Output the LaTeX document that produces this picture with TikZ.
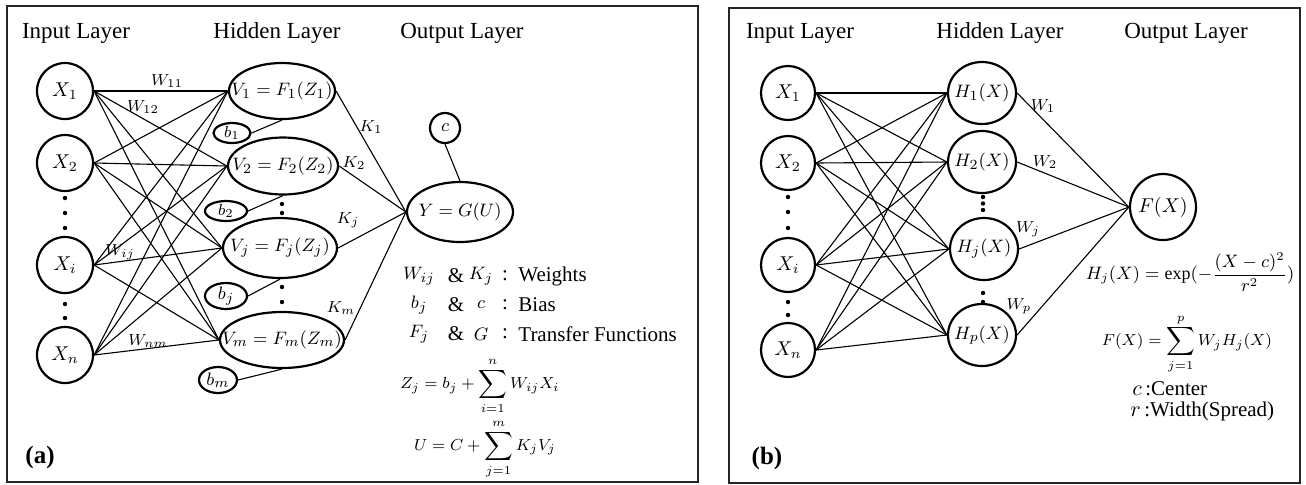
\documentclass[tikz,border=0pt]{standalone}
\usepackage{fontspec}
\setmainfont{Liberation Serif}
\usetikzlibrary{shapes.geometric}
\begin{document}
\begin{tikzpicture}[x=0.5pt,y=-0.5pt,
  frame/.style={draw=black!85,line width=1.2pt},
  inp/.style={draw,circle,line width=1.1pt,inner sep=0pt,minimum size=28pt,font=\fontsize{10}{11}\selectfont},
  hid/.style={draw,ellipse,line width=1.1pt,inner sep=0pt},
  conn/.style={line width=0.55pt},
  lbl/.style={font=\fontsize{8.5}{9}\selectfont,inner sep=0pt},
  hdr/.style={font=\fontsize{11.5}{13}\selectfont,inner sep=0pt},
  leg/.style={font=\fontsize{10.5}{12}\selectfont,inner sep=0pt},
  sym/.style={font=\fontsize{9.5}{10}\selectfont,inner sep=0pt},
  frm/.style={font=\fontsize{8.5}{10}\selectfont,inner sep=0pt},
  nodetext/.style={font=\fontsize{9.5}{11}\selectfont,inner sep=0pt},
  pdot/.style={fill=black}]
\useasboundingbox (0,0) rectangle (1306,484);

% ---------------- Panel (a) ----------------
\draw[frame] (7,6) rectangle (698,482);
\node[hdr] (ha1) at (76,33) {Input Layer};
\node[hdr] (ha2) at (277,33) {Hidden Layer};
\node[hdr] (ha3) at (462,33) {Output Layer};

\node[inp] (x1) at (65,91) {$X_1$};
\node[inp] (x2) at (65,163) {$X_2$};
\node[inp] (xi) at (65,265) {$X_i$};
\node[inp] (xn) at (65,355) {$X_n$};
\foreach \yy in {198,213,228,304,318} \fill[pdot] (65,\yy) circle (1.1pt);

\node[hid,minimum width=53pt,minimum height=28pt] (v1) at (282,91) {};
\node[nodetext] at (v1) {$V_1=F_1(Z_1)$};
\node[hid,minimum width=55pt,minimum height=28.5pt] (v2) at (283,166) {};
\node[nodetext] at (v2) {$V_2=F_2(Z_2)$};
\node[hid,minimum width=57pt,minimum height=30pt] (vj) at (280,248) {};
\node[nodetext] at (vj) {$V_j=F_j(Z_j)$};
\node[hid,minimum width=62pt,minimum height=28pt] (vm) at (282,340) {};
\node[nodetext] at (vm) {$V_m=F_m(Z_m)$};
\foreach \yy in {204,213,287,302} \fill[pdot] (282,\yy) circle (1.1pt);

\node[hid,minimum width=18.5pt,minimum height=10pt] (b1) at (232,133) {};
\node[lbl] at (b1) {$b_1$};
\node[hid,minimum width=21pt,minimum height=10pt] (b2) at (226,211) {};
\node[lbl] at (b2) {$b_2$};
\node[hid,minimum width=21pt,minimum height=13pt] (bj) at (226,296) {};
\node[lbl,font=\fontsize{9.5}{10}\selectfont] at (bj) {$b_j$};
\node[hid,minimum width=19pt,minimum height=13pt] (bm) at (218,380) {};
\node[lbl,font=\fontsize{9.5}{10}\selectfont] at (bm) {$b_m$};

\node[hid,minimum width=53pt,minimum height=30pt] (yy) at (460,212) {};
\node[nodetext] at (yy) {$Y=G(U)$};
\node[draw,circle,line width=1.1pt,inner sep=0pt,minimum size=15pt] (cc) at (445,128) {};
\node[lbl,font=\fontsize{9.5}{10}\selectfont] at (cc) {$c$};

\foreach \a in {x1,x2,xi,xn}
  \foreach \b in {v1,v2,vj,vm}
    \draw[conn] (\a.east) -- (\b.west);
\foreach \b in {v1,v2,vj,vm}
  \draw[conn] (\b.east) -- (yy.west);
\draw[conn] (b1.east) -- (v1.south);
\draw[conn] (b2.east) -- (v2.south);
\draw[conn] (bj.east) -- (vj.south);
\draw[conn] (bm.east) -- (vm.south);
\draw[conn] (cc.south) -- (yy.north);

\node[lbl] (w11) at (167,81) {$W_{11}$};
\node[lbl] (w12) at (143,107) {$W_{12}$};
\node[lbl] (wij) at (120,252) {$W_{ij}$};
\node[lbl] (wnm) at (148,341) {$W_{nm}$};
\node[lbl] (k1) at (371,127) {$K_1$};
\node[lbl] (k2) at (354,163) {$K_2$};
\node[lbl] (kj) at (348,220) {$K_j$};
\node[lbl] (km) at (341,308) {$K_m$};

% legend (a)
\node[sym] (l1a) at (419,276) {$W_{ij}$};
\node[leg] (l1b) at (456,276) {\&};
\node[sym] (l1c) at (481,276) {$K_j$};
\node[leg] (l1d) at (505,276) {:};
\node[leg,anchor=west] (l1e) at (518,276) {Weights};
\node[sym] (l2a) at (419,305) {$b_j$};
\node[leg] (l2b) at (456,305) {\&};
\node[sym] (l2c) at (481,305) {$c$};
\node[leg] (l2d) at (505,305) {:};
\node[leg,anchor=west] (l2e) at (518,305) {Bias};
\node[sym] (l3a) at (419,334) {$F_j$};
\node[leg] (l3b) at (456,334) {\&};
\node[sym] (l3c) at (481,334) {$G$};
\node[leg] (l3d) at (505,334) {:};
\node[leg,anchor=west] (l3e) at (518,334) {Transfer Functions};
\node[frm] (zf) at (480,386) {$\displaystyle Z_j=b_j+\sum_{i=1}^{n}W_{ij}X_i$};
\node[frm] (uf) at (485,449) {$\displaystyle U=C+\sum_{j=1}^{m}K_jV_j$};
\node[font=\fontsize{12.5}{14}\selectfont\bfseries,inner sep=0pt] (la) at (40,457) {(a)};

% ---------------- Panel (b) ----------------
\draw[frame] (729,8) rectangle (1300,483);
\node[hdr] (hb1) at (800,33) {Input Layer};
\node[hdr] (hb2) at (1000,33) {Hidden Layer};
\node[hdr] (hb3) at (1186,33) {Output Layer};

\node[inp,minimum size=27pt] (bx1) at (788,93) {$X_1$};
\node[inp,minimum size=27pt] (bx2) at (788,163) {$X_2$};
\node[inp,minimum size=27pt] (bxi) at (788,265) {$X_i$};
\node[inp,minimum size=27pt] (bxn) at (788,350) {$X_n$};
\foreach \yy in {197,212,228,302,315} \fill[pdot] (788,\yy) circle (1.1pt);

\node[hid,minimum width=34pt,minimum height=31pt] (h1) at (982,93) {};
\node[nodetext] at (h1) {$H_1(X)$};
\node[hid,minimum width=34pt,minimum height=31pt] (h2) at (982,162) {};
\node[nodetext] at (h2) {$H_2(X)$};
\node[hid,minimum width=34pt,minimum height=31pt] (hj) at (984,249) {};
\node[nodetext] at (hj) {$H_j(X)$};
\node[hid,minimum width=34pt,minimum height=31pt] (hp) at (982,335) {};
\node[nodetext] at (hp) {$H_p(X)$};
\foreach \yy in {197,203.5,210,293,302} \fill[pdot] (983,\yy) circle (1.1pt);

\node[draw,circle,line width=1.1pt,inner sep=0pt,minimum size=33pt,font=\fontsize{10}{11}\selectfont] (fx) at (1163,207) {$F(X)$};

\foreach \a in {bx1,bx2,bxi,bxn}
  \foreach \b in {h1,h2,hj,hp}
    \draw[conn] (\a.east) -- (\b.west);
\foreach \b in {h1,h2,hj,hp}
  \draw[conn] (\b.east) -- (fx.west);

\node[lbl] (bw1) at (1043,106) {$W_1$};
\node[lbl] (bw2) at (1045,162) {$W_2$};
\node[lbl] (bwj) at (1028,229) {$W_j$};
\node[lbl] (bwp) at (1019,306) {$W_p$};

\node[frm,font=\fontsize{9}{10}\selectfont] (hf) at (1190,272) {$\displaystyle H_j(X)=\mathrm{exp}(-\frac{(X-c)^2}{r^2})$};
\node[frm] (ff) at (1187,344) {$\displaystyle F(X)=\sum_{j=1}^{p}W_jH_j(X)$};
\node[leg,anchor=west] (cl) at (1132,389) {$c$\,:Center};
\node[leg,anchor=west] (rl) at (1130,411) {$r$\,:Width(Spread)};
\node[font=\fontsize{12.5}{14}\selectfont\bfseries,inner sep=0pt] (lb) at (767,458) {(b)};
\end{tikzpicture}
\end{document}
